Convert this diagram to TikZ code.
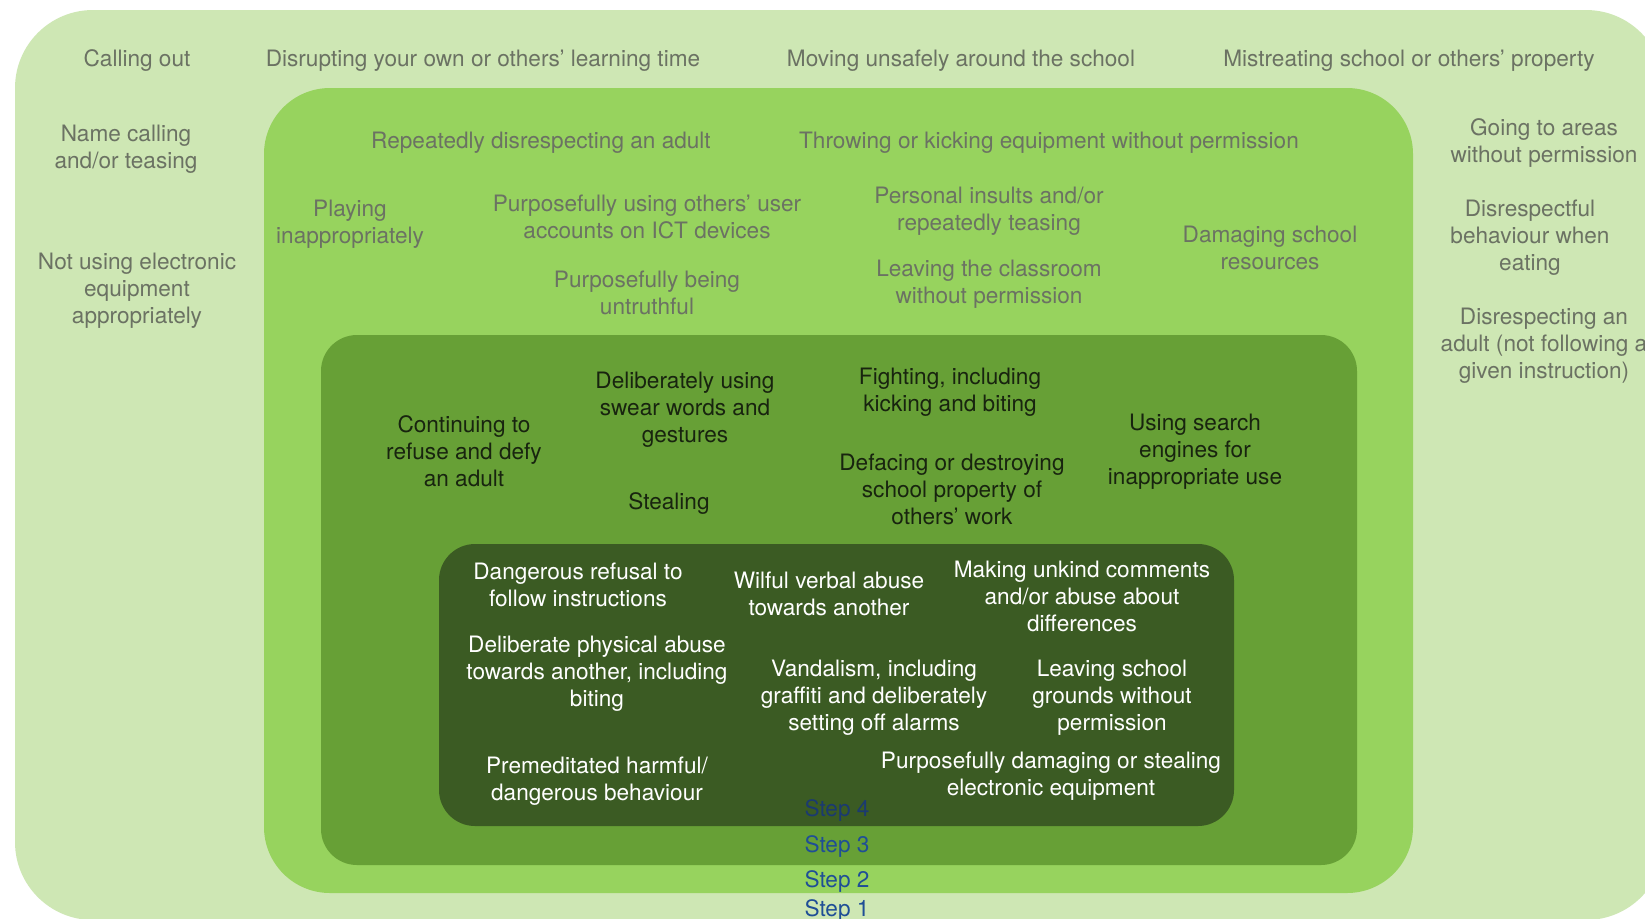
\documentclass[tikz,border=0pt]{standalone}
\usepackage{fontspec}
\setmainfont{TeX Gyre Heros}

\definecolor{stepone}{HTML}{CEE7B4}
\definecolor{steptwo}{HTML}{97D35E}
\definecolor{stepthree}{HTML}{67A036}
\definecolor{stepfour}{HTML}{3B5B23}
\definecolor{greytext}{HTML}{6B7263}
\definecolor{darktext}{HTML}{18240F}
\definecolor{steplabel}{HTML}{1F4E96}
\definecolor{steplabeldark}{HTML}{1B3A70}

\begin{document}
\begin{tikzpicture}[x=0.5pt,y=-0.5pt]
        % Define styles for the zones and the texts
        \tikzset{
            zone/.style={rounded corners=#1},
            behaviour/.style={align=center, inner sep=0pt, yshift=-1pt, font=\fontsize{11.3}{13.5}\selectfont},
            low/.style={behaviour, text=greytext},
            high/.style={behaviour, text=darktext},
            worst/.style={behaviour, text=white},
            steptag/.style={behaviour, text=#1}
        }

        % Page and clipping
        \path[use as bounding box, fill=white] (0,0) rectangle (1645,918);
        \clip (0,0) rectangle (1645,918);

        % Draw the four nested zones
        \fill[stepone, zone=39pt] (15,10) rectangle (1664,920);
        \fill[steptwo, zone=33pt] (264,88) rectangle (1413,893);
        \fill[stepthree, zone=18pt] (321,335) rectangle (1357,865);
        \fill[stepfour, zone=18pt] (439,544) rectangle (1234,826);

        % Step 1 behaviours
        \node[low] (callout) at (137,59) {Calling out};
        \node[low] (disrupt) at (483,59) {Disrupting your own or others' learning time};
        \node[low] (moving) at (961,59) {Moving unsafely around the school};
        \node[low] (mistreat) at (1409,59) {Mistreating school or others' property};
        \node[low] (namecall) at (126,147) {Name calling\\and/or teasing};
        \node[low] (electronic) at (137,289) {Not using electronic\\equipment\\appropriately};
        \node[low] (areas) at (1544,141) {Going to areas\\without permission};
        \node[low] (eating) at (1530,236) {Disrespectful\\behaviour when\\eating};
        \node[low] (disadult) at (1544,344) {Disrespecting an\\adult (not following a\\given instruction)};

        % Step 2 behaviours
        \node[low] (repeat) at (541,141) {Repeatedly disrespecting an adult};
        \node[low] (throwing) at (1049,141) {Throwing or kicking equipment without permission};
        \node[low] (playing) at (350,222) {Playing\\inappropriately};
        \node[low] (accounts) at (647,215) {Purposefully using others' user\\accounts on ICT devices};
        \node[low] (insults) at (989,209) {Personal insults and/or\\repeatedly teasing};
        \node[low] (damaging) at (1270,246) {Damaging school\\resources};
        \node[low] (untruth) at (647,291) {Purposefully being\\untruthful};
        \node[low] (leaveroom) at (989,282) {Leaving the classroom\\without permission};

        % Step 3 behaviours
        \node[high] (defy) at (464,449) {Continuing to\\refuse and defy\\an adult};
        \node[high] (swear) at (685,408) {Deliberately using\\swear words and\\gestures};
        \node[high] (stealing) at (669,502) {Stealing};
        \node[high] (fighting) at (950,390) {Fighting, including\\kicking and biting};
        \node[high] (defacing) at (952,487) {Defacing or destroying\\school property of\\others' work};
        \node[high] (search) at (1195,450) {Using search\\engines for\\inappropriate use};

        % Step 4 behaviours
        \node[worst] (refusal) at (578,583) {Dangerous refusal to\\follow instructions};
        \node[worst] (verbal) at (829,592) {Wilful verbal abuse\\towards another};
        \node[worst] (unkind) at (1082,594) {Making unkind comments\\and/or abuse about\\differences};
        \node[worst] (physical) at (597,672) {Deliberate physical abuse\\towards another, including\\biting};
        \node[worst] (vandal) at (874,696) {Vandalism, including\\graffiti and deliberately\\setting off alarms};
        \node[worst] (leaveschool) at (1112,696) {Leaving school\\grounds without\\permission};
        \node[worst] (harmful) at (597,779) {Premeditated harmful/\\dangerous behaviour};
        \node[worst] (equipment) at (1051,774) {Purposefully damaging or stealing\\electronic equipment};

        % Step labels
        \foreach \n/\y/\c in {4/809/steplabeldark, 3/845/steplabel, 2/880/steplabel, 1/909/steplabel} {
            \node[steptag=\c] (step\n) at (837,\y) {Step \n};
        }

    \end{tikzpicture}
\end{document}
